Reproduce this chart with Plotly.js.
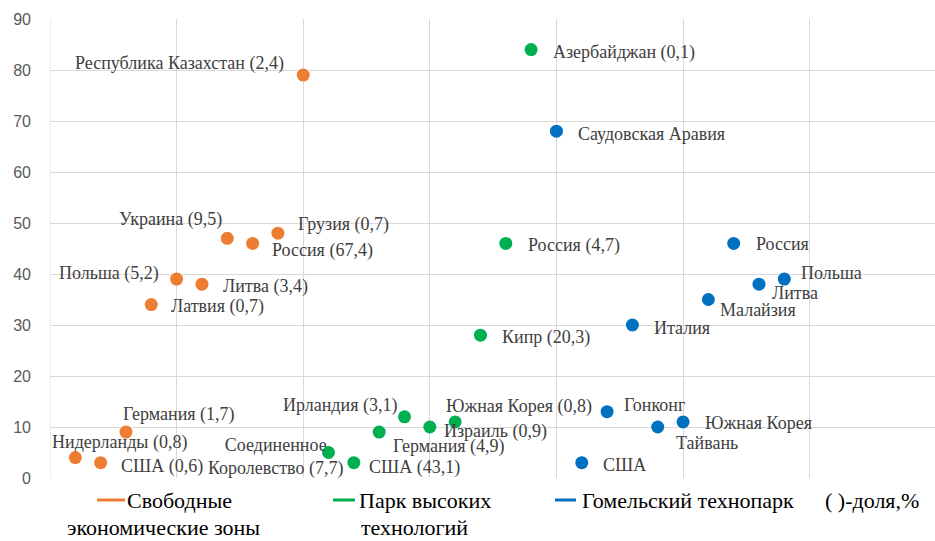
<!DOCTYPE html>
<html><head><meta charset="utf-8">
<script src="https://cdn.plot.ly/plotly-3.0.1.min.js"></script>
<style>html,body{margin:0;padding:0;background:#fff}</style>
</head><body><div id="chart" style="width:935px;height:541px"></div>
<script>
// ---- data ----
const seriesNames = ['Свободные экономические зоны', 'Парк высоких технологий', 'Гомельский технопарк'];
const legendLine1 = ['Свободные', 'Парк высоких', 'Гомельский технопарк'];
const legendLine2 = ['экономические зоны', 'технологий', ''];
const shareNote = '( )-доля,%';

const sezLabels = ['Нидерланды (0,8)', 'США (0,6)', 'Германия (1,7)', 'Латвия (0,7)', 'Польша (5,2)', 'Литва (3,4)', 'Украина (9,5)', 'Россия (67,4)', 'Грузия (0,7)', 'Республика Казахстан (2,4)'];
const sezX = [0.2, 0.4, 0.6, 0.8, 1.0, 1.2, 1.4, 1.6, 1.8, 2.0];
const sezY = [4, 3, 9, 34, 39, 38, 47, 46, 48, 79];

const htpLabels = ['Соединенное<br>Королевство (7,7)', 'США (43,1)', 'Германия (4,9)', 'Ирландия (3,1)', 'Израиль (0,9)', 'Южная Корея (0,8)', 'Кипр (20,3)', 'Россия (4,7)', 'Азербайджан (0,1)'];
const htpX = [2.2, 2.4, 2.6, 2.8, 3.0, 3.2, 3.4, 3.6, 3.8];
const htpY = [5, 3, 9, 12, 10, 11, 28, 46, 84];

const gtpLabels = ['Саудовская Аравия', 'США', 'Гонконг', 'Италия', 'Тайвань', 'Южная Корея', 'Малайзия', 'Россия', 'Литва', 'Польша'];
const gtpX = [4.0, 4.2, 4.4, 4.6, 4.8, 5.0, 5.2, 5.4, 5.6, 5.8];
const gtpY = [68, 3, 13, 30, 10, 11, 35, 46, 38, 39];

const yTicks = [0, 10, 20, 30, 40, 50, 60, 70, 80, 90];

// ---- styles ----
const colors = ['#ED7D31', '#00B050', '#0070C0'];
const SERIF = 'Liberation Serif';
// label placement: [anchor, dx px, dy px (down positive)]
const sezPos = [['l',-25,-15],['l',18,4],['l',-5,-18],['l',18,2],['r',-16,-6],['l',19,2],['r',-3,-19],['l',17,7],['l',18,-9],['r',-17,-12]];
const htpPos = [['c',-53,4.5],['l',13,5],['l',12,14],['r',-6,-11],['l',12,4],['l',-11,-15.5],['l',20,2],['l',20,2],['l',20,3]];
const gtpPos = [['l',20,3],['l',19,2],['l',15,-7],['l',20,3],['l',16,16],['l',20,1.5],['l',10,10],['l',20,1],['l',11,9],['l',15,-6]];

const W = 935, H = 541, M = {l: 50, r: 0, t: 19, b: 63};
const PW = W - M.l - M.r, PH = H - M.t - M.b;
const px = v => (v - M.l) / PW;
const py = v => (H - M.b - v) / PH;

const series = [
  {x: sezX, y: sezY, labels: sezLabels, pos: sezPos},
  {x: htpX, y: htpY, labels: htpLabels, pos: htpPos},
  {x: gtpX, y: gtpY, labels: gtpLabels, pos: gtpPos}
];

const traces = series.map((s, i) => ({
  type: 'scatter', mode: 'markers', x: s.x, y: s.y, name: seriesNames[i],
  marker: {color: colors[i], size: 13}, showlegend: false, hoverinfo: 'skip'
}));

const annotations = [];
const anchorMap = {l: 'left', r: 'right', c: 'center'};
series.forEach(s => {
  s.labels.forEach((t, j) => {
    const p = s.pos[j];
    annotations.push({
      x: s.x[j], y: s.y[j], xref: 'x', yref: 'y', text: t, showarrow: false,
      xanchor: anchorMap[p[0]], yanchor: 'middle', xshift: p[1], yshift: -p[2],
      align: 'center',
      font: {family: SERIF, size: 18, color: '#404040'}
    });
  });
});

// legend (built from series names)
const legendFont = {family: SERIF, size: 22, color: '#000000'};
const legLineX = [[97, 125], [333, 355], [555, 576]];
const legText1X = [125, 357, 580];
const legText2C = [163, 414, 0];
const shapes = [
  {type: 'line', xref: 'x', yref: 'paper', x0: 0, x1: 0, y0: 0, y1: 1, line: {color: '#D9D9D9', width: 1}, layer: 'below'}
];
legendLine1.forEach((t, i) => {
  shapes.push({type: 'line', xref: 'paper', yref: 'paper',
    x0: px(legLineX[i][0]), x1: px(legLineX[i][1]), y0: py(500), y1: py(500),
    line: {color: colors[i], width: 3}});
  annotations.push({xref: 'paper', yref: 'paper', x: px(legText1X[i]), y: py(501), text: t,
    showarrow: false, xanchor: 'left', yanchor: 'middle', font: legendFont});
  if (legendLine2[i]) {
    annotations.push({xref: 'paper', yref: 'paper', x: px(legText2C[i]), y: py(527), text: legendLine2[i],
      showarrow: false, xanchor: 'center', yanchor: 'middle', font: legendFont});
  }
});
annotations.push({xref: 'paper', yref: 'paper', x: px(823), y: py(501), text: shareNote,
  showarrow: false, xanchor: 'left', yanchor: 'middle', font: legendFont});

const layout = {
  width: W, height: H, margin: M,
  paper_bgcolor: '#ffffff', plot_bgcolor: '#ffffff',
  showlegend: false,
  font: {family: SERIF},
  xaxis: {range: [0, 6.99], dtick: 1, tick0: 0, showticklabels: false, ticks: '',
    showgrid: true, gridcolor: '#D9D9D9', gridwidth: 1, zeroline: false, showline: false},
  yaxis: {range: [0, 90], tickvals: yTicks, ticks: '', ticklabelstandoff: 18,
    showgrid: true, gridcolor: '#D9D9D9', gridwidth: 1, zeroline: false, showline: false,
    tickfont: {family: 'Liberation Sans', size: 16, color: '#595959'}},
  shapes: shapes,
  annotations: annotations
};

Plotly.newPlot('chart', traces, layout, {staticPlot: true, displayModeBar: false});
</script>
</body></html>
